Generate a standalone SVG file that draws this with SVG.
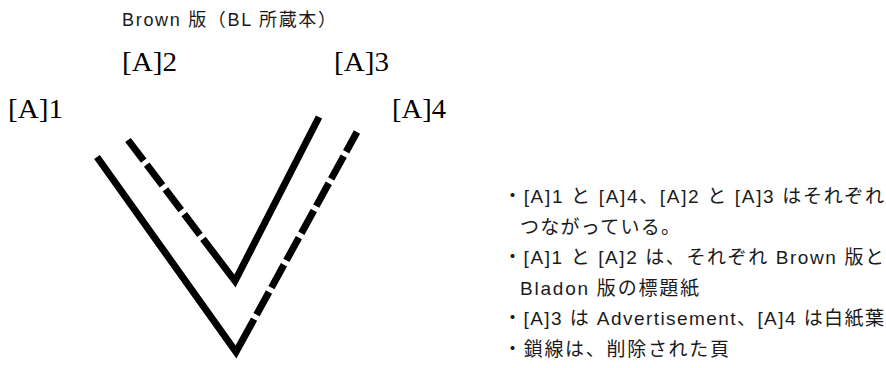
<svg xmlns="http://www.w3.org/2000/svg" width="886" height="368" viewBox="0 0 886 368">
<style>
.serif{font-family:"Liberation Serif","DejaVu Serif",serif;font-size:28px;fill:#000}
.jp{font-family:"Liberation Sans","Noto Sans CJK JP",sans-serif;font-size:19px;fill:#1a1a1a}
.tt{font-family:"Liberation Sans","Noto Sans CJK JP",sans-serif;font-size:18px;fill:#1a1a1a}
.ln{fill:none;stroke:#000;stroke-width:7;stroke-linecap:butt;stroke-linejoin:miter;stroke-miterlimit:10}
</style>
<rect width="886" height="368" fill="#fff"/>
<g id="title"><text class="tt" x="122" y="26" textLength="214" lengthAdjust="spacing">Brown 版（BL 所蔵本）</text></g>
<g id="label-a1"><text class="serif" x="8" y="118" textLength="55" lengthAdjust="spacingAndGlyphs">[A]1</text></g>
<g id="label-a2"><text class="serif" x="122" y="71" textLength="55" lengthAdjust="spacingAndGlyphs">[A]2</text></g>
<g id="label-a3"><text class="serif" x="334" y="71" textLength="55" lengthAdjust="spacingAndGlyphs">[A]3</text></g>
<g id="label-a4"><text class="serif" x="392" y="118" textLength="54" lengthAdjust="spacingAndGlyphs">[A]4</text></g>
<g id="connectors">
<path class="ln" d="M97,157 L236,352 L357,132" stroke-dasharray="277 5 26 5 26 5 26 5 26 5 26 5 26 5 100"/>
<path class="ln" d="M128,140 L235,281 L319,117" stroke-dasharray="26 5 26 5 26 5 26 5 1000"/>
</g>
<g id="notes">
<text class="jp" x="503" y="203" textLength="381" lengthAdjust="spacing">・[A]1 と [A]4、[A]2 と [A]3 はそれぞれ</text>
<text class="jp" x="520" y="233.5" textLength="160" lengthAdjust="spacing">つながっている。</text>
<text class="jp" x="503" y="264" textLength="381" lengthAdjust="spacing">・[A]1 と [A]2 は、それぞれ Brown 版と</text>
<text class="jp" x="520" y="294.5" textLength="179" lengthAdjust="spacing">Bladon 版の標題紙</text>
<text class="jp" x="503" y="325" textLength="381" lengthAdjust="spacing">・[A]3 は Advertisement、[A]4 は白紙葉</text>
<text class="jp" x="503" y="355.5" textLength="226" lengthAdjust="spacing">・鎖線は、削除された頁</text>
</g>
</svg>
